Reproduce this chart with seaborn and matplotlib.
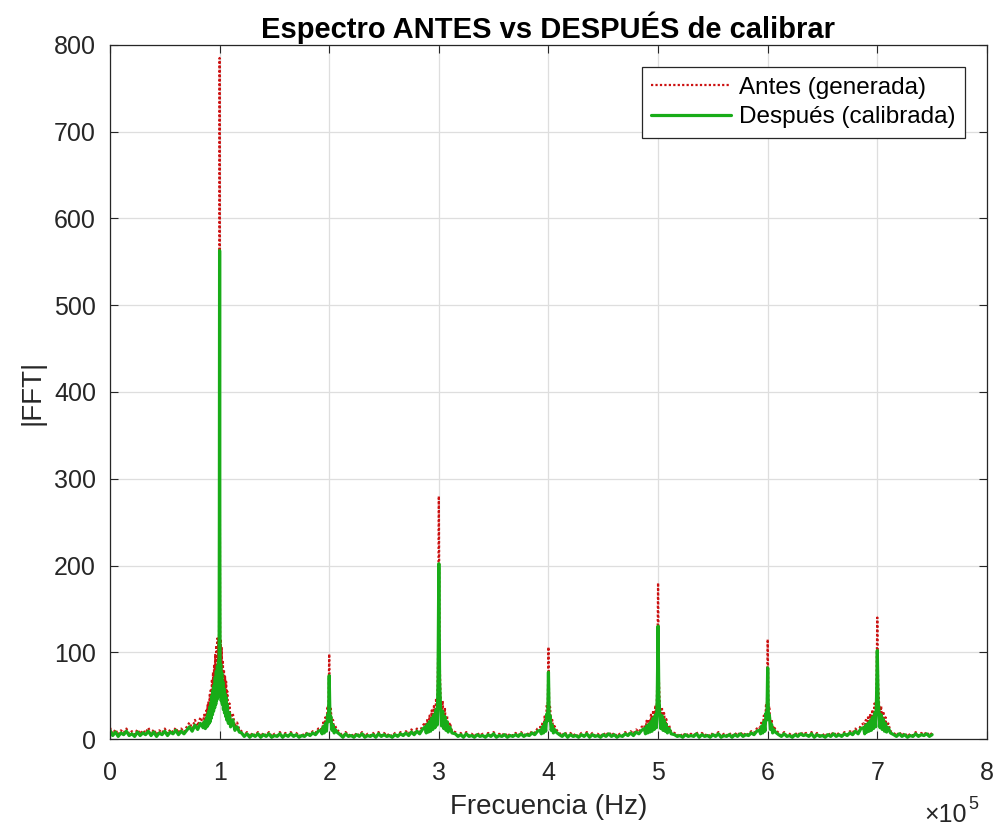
import numpy as np
import pandas as pd
import matplotlib
matplotlib.use("Agg")
import matplotlib.pyplot as plt
import seaborn as sns

# Frequency samples (kHz), grouped by region of the spectrum
freq_khz = [
    # floor 0-85 kHz
    0, 2.5, 5, 7.5, 10, 12.5, 15, 17.5, 20, 22.5, 25, 27.5, 30, 32.5, 35, 37.5, 40, 42.5,
    45, 47.5, 50, 52.5, 55, 57.5, 60, 62.5, 65, 67.5, 70, 72.5, 75, 77.5, 80, 82.5, 85,
    # fundamental, 100 kHz
    86, 87, 88, 88.5, 89, 89.5, 90, 90.5, 91, 91.5,
    92, 92.5, 93, 93.5, 94, 94.5, 95, 95.5, 96, 96.5,
    97, 97.5, 98, 98.5, 99, 99.3, 99.6, 99.8, 100, 100.2,
    100.4, 100.7, 101, 101.5, 102, 102.5, 103, 103.5, 104, 104.5,
    105, 105.5, 106, 106.5, 107, 108, 109, 110, 112, 114,
    116, 118,
    # floor
    120, 122.5, 125, 127.5, 130, 132.5, 135, 137.5, 140, 142.5, 145, 147.5, 150, 152.5, 155,
    157.5, 160, 162.5, 165, 167.5, 170, 172.5, 175, 177.5, 180, 182.5, 185, 187.5, 190,
    # harmonic, 200 kHz
    192.5, 193.5, 194.5, 195.5, 196.5, 197.5, 198.5, 199.3, 200, 200.7, 201.5, 202.5, 203.5, 204.5, 205.5, 207,
    # floor
    210, 212.5, 215, 217.5, 220, 222.5, 225, 227.5, 230, 232.5, 235, 237.5, 240, 242.5, 245, 247.5,
    250, 252.5, 255, 257.5, 260, 262.5, 265, 267.5, 270, 272.5, 275, 277.5, 280, 282.5, 285,
    # harmonic, 300 kHz
    287.5, 288.5, 289.5, 290.5, 291.5, 292.5, 293.5, 294.5, 295.5, 296.5, 297.5, 298.5,
    299.3, 300, 300.7, 301.5, 302.5, 303.5, 304.5, 305.5, 306.5, 307.5, 308.5, 310, 312,
    # floor
    315, 317.5, 320, 322.5, 325, 327.5, 330, 332.5, 335, 337.5, 340, 342.5, 345, 347.5, 350, 352.5,
    355, 357.5, 360, 362.5, 365, 367.5, 370, 372.5, 375, 377.5, 380, 382.5, 385, 387.5, 390,
    # harmonic, 400 kHz
    392.5, 393.5, 394.5, 395.5, 396.5, 397.5, 398.5, 399.3, 400, 400.7, 401.5, 402.5, 403.5, 404.5, 405.5, 407,
    # floor
    410, 412.5, 415, 417.5, 420, 422.5, 425, 427.5, 430, 432.5, 435, 437.5, 440, 442.5, 445, 447.5,
    450, 452.5, 455, 457.5, 460, 462.5, 465, 467.5, 470, 472.5, 475, 477.5, 480, 482.5, 485,
    # harmonic, 500 kHz
    487.5, 488.5, 489.5, 490.5, 491.5, 492.5, 493.5, 494.5, 495.5, 496.5, 497.5, 498.5,
    499.3, 500, 500.7, 501.5, 502.5, 503.5, 504.5, 505.5, 506.5, 507.5, 508.5, 510, 512,
    # floor
    515, 517.5, 520, 522.5, 525, 527.5, 530, 532.5, 535, 537.5, 540, 542.5, 545, 547.5, 550, 552.5,
    555, 557.5, 560, 562.5, 565, 567.5, 570, 572.5, 575, 577.5, 580, 582.5, 585, 587.5, 590,
    # harmonic, 600 kHz
    592.5, 593.5, 594.5, 595.5, 596.5, 597.5, 598.5, 599.3, 600, 600.7, 601.5, 602.5, 603.5, 604.5, 605.5, 607,
    # floor
    610, 612.5, 615, 617.5, 620, 622.5, 625, 627.5, 630, 632.5, 635, 637.5, 640, 642.5, 645, 647.5,
    650, 652.5, 655, 657.5, 660, 662.5, 665, 667.5, 670, 672.5, 675, 677.5, 680, 682.5, 685,
    # harmonic, 700 kHz
    687.5, 688.5, 689.5, 690.5, 691.5, 692.5, 693.5, 694.5, 695.5, 696.5, 697.5, 698.5,
    699.3, 700, 700.7, 701.5, 702.5, 703.5, 704.5, 705.5, 706.5, 707.5, 708.5, 710, 712,
    # floor to the end
    715, 717.5, 720, 722.5, 725, 727.5, 730, 732.5, 735, 737.5, 740, 742.5, 745, 747.5, 750,
]

# |FFT| of the generated signal (before calibration)
mag_antes = [
    13, 6, 11, 5, 10, 7, 12, 6, 9, 5, 11, 6, 10, 7, 13, 6, 11, 5,
    10, 7, 12, 6, 11, 8, 13, 7, 12, 8, 14, 19, 12, 22, 15, 25, 18,
    28, 17, 33, 19, 39, 22, 44, 25, 51, 28,
    58, 33, 69, 39, 77, 44, 86, 50, 98, 55,
    108, 62, 116, 66, 115, 72, 150, 350, 785, 335,
    140, 69, 115, 61, 105, 55, 91, 47, 80, 41,
    72, 36, 66, 30, 55, 25, 41, 19, 30, 14,
    19, 11,
    9, 4, 8, 3, 7, 4, 8, 3, 7, 4, 8, 3, 6, 4, 8,
    3, 7, 4, 8, 4, 7, 3, 6, 4, 8, 5, 9, 7, 12,
    13, 8, 19, 9, 25, 12, 38, 27, 98, 30, 35, 13, 22, 9, 15, 11,
    7, 3, 8, 4, 6, 3, 7, 4, 8, 3, 6, 4, 7, 3, 8, 4,
    7, 4, 6, 3, 7, 4, 8, 5, 9, 6, 11, 7, 12, 8, 15,
    19, 9, 23, 11, 27, 12, 33, 15, 38, 18, 47, 22,
    96, 280, 94, 52, 21, 44, 17, 36, 14, 27, 11, 19, 9,
    8, 4, 7, 3, 8, 4, 6, 3, 7, 4, 6, 3, 7, 4, 8, 3,
    6, 4, 7, 3, 6, 4, 7, 4, 8, 4, 7, 5, 9, 7, 12,
    14, 8, 19, 10, 26, 12, 40, 29, 106, 32, 37, 14, 22, 9, 15, 11,
    7, 4, 8, 3, 7, 4, 6, 3, 7, 4, 8, 3, 7, 4, 6, 3,
    7, 4, 8, 4, 7, 3, 6, 4, 8, 5, 9, 6, 11, 8, 14,
    16, 8, 21, 10, 23, 11, 28, 12, 33, 15, 39, 18,
    72, 180, 70, 41, 16, 37, 14, 30, 12, 23, 10, 16, 8,
    7, 4, 6, 3, 7, 4, 6, 4, 8, 3, 7, 4, 6, 3, 7, 4,
    8, 3, 6, 4, 7, 3, 7, 4, 8, 4, 7, 5, 9, 7, 12,
    14, 8, 21, 10, 27, 12, 41, 30, 115, 33, 38, 15, 23, 9, 15, 11,
    7, 4, 8, 4, 6, 3, 7, 4, 8, 5, 7, 4, 8, 3, 7, 4,
    6, 3, 7, 4, 8, 4, 7, 4, 8, 5, 9, 7, 12, 8, 16,
    18, 8, 22, 11, 25, 12, 29, 14, 34, 16, 41, 19,
    66, 140, 64, 44, 18, 38, 15, 32, 12, 25, 11, 18, 9,
    7, 4, 8, 4, 7, 3, 6, 4, 8, 4, 7, 5, 8, 4, 7,
]

# |FFT| after calibration
mag_despues = [
    10, 4, 8, 3, 7, 5, 9, 4, 6, 3, 8, 4, 7, 5, 9, 4, 8, 3,
    7, 5, 9, 4, 8, 6, 10, 5, 9, 6, 10, 14, 9, 16, 11, 18, 13,
    20, 12, 24, 14, 28, 16, 32, 18, 37, 20,
    42, 24, 50, 28, 56, 32, 62, 36, 71, 40,
    78, 45, 84, 48, 90, 52, 110, 250, 563, 240,
    105, 50, 86, 44, 76, 40, 66, 34, 58, 30,
    52, 26, 48, 22, 40, 18, 30, 14, 22, 10,
    14, 8,
    7, 3, 6, 2, 5, 3, 6, 2, 5, 3, 6, 2, 4, 3, 6,
    2, 5, 3, 6, 3, 5, 2, 4, 3, 6, 4, 7, 5, 9,
    10, 6, 14, 7, 18, 9, 28, 20, 73, 22, 26, 10, 16, 7, 11, 8,
    5, 2, 6, 3, 4, 2, 5, 3, 6, 2, 4, 3, 5, 2, 6, 3,
    5, 3, 4, 2, 5, 3, 6, 4, 7, 4, 8, 5, 9, 6, 11,
    14, 7, 17, 8, 20, 9, 24, 11, 28, 13, 34, 16,
    70, 202, 68, 38, 15, 32, 12, 26, 10, 20, 8, 14, 7,
    6, 3, 5, 2, 6, 3, 4, 2, 5, 3, 4, 2, 5, 3, 6, 2,
    4, 3, 5, 2, 4, 3, 5, 3, 6, 3, 5, 4, 7, 5, 9,
    10, 6, 14, 7, 19, 9, 29, 21, 77, 23, 27, 10, 16, 7, 11, 8,
    5, 3, 6, 2, 5, 3, 4, 2, 5, 3, 6, 2, 5, 3, 4, 2,
    5, 3, 6, 3, 5, 2, 4, 3, 6, 4, 7, 4, 8, 6, 10,
    12, 6, 15, 7, 17, 8, 20, 9, 24, 11, 28, 13,
    52, 130, 50, 30, 12, 27, 10, 22, 9, 17, 7, 12, 6,
    5, 3, 4, 2, 5, 3, 4, 3, 6, 2, 5, 3, 4, 2, 5, 3,
    6, 2, 4, 3, 5, 2, 5, 3, 6, 3, 5, 4, 7, 5, 9,
    10, 6, 15, 7, 20, 9, 30, 22, 82, 24, 28, 11, 17, 7, 11, 8,
    5, 3, 6, 3, 4, 2, 5, 3, 6, 4, 5, 3, 6, 2, 5, 3,
    4, 2, 5, 3, 6, 3, 5, 3, 6, 4, 7, 5, 9, 6, 12,
    13, 6, 16, 8, 18, 9, 21, 10, 25, 12, 30, 14,
    48, 102, 46, 32, 13, 28, 11, 23, 9, 18, 8, 13, 7,
    5, 3, 6, 3, 5, 2, 4, 3, 6, 3, 5, 4, 6, 3, 5,
]

x_tick_labels = ["0", "1", "2", "3", "4", "5", "6", "7", "8"]
y_ticks = [0, 100, 200, 300, 400, 500, 600, 700, 800]
labels = ["Antes (generada)", "Después (calibrada)"]

freq_hz = np.array(freq_khz) * 1e3
df = pd.DataFrame({"f": freq_hz, "antes": mag_antes, "despues": mag_despues})

sns.set_theme(style="white")
plt.rcParams["font.family"] = ["Liberation Sans", "DejaVu Sans"]

TXT = "#262626"
fig = plt.figure(figsize=(9.97, 8.27), dpi=100)
ax = fig.add_axes([0.1103, 0.1064, 0.8796, 0.8392])

sns.lineplot(data=df, x="f", y="antes", ax=ax, color="#cc1111", linestyle=(0, (1, 1)),
             linewidth=1.6, estimator=None, sort=False, label=labels[0])
sns.lineplot(data=df, x="f", y="despues", ax=ax, color="#18ac18", linewidth=2.3,
             estimator=None, sort=False, label=labels[1])

ax.set_xlim(0, 8e5)
ax.set_ylim(0, 800)
ax.set_xticks([i * 1e5 for i in range(9)])
ax.set_xticklabels(x_tick_labels)
ax.set_yticks(y_ticks)
ax.set_yticklabels([str(v) for v in y_ticks])

ax.grid(True, color="#dedede", linewidth=0.9)
ax.set_axisbelow(True)
for s in ax.spines.values():
    s.set_visible(True)
    s.set_color(TXT)
    s.set_linewidth(0.9)
ax.tick_params(direction="in", length=6, width=0.8, color=TXT, labelcolor=TXT,
               labelsize=18, top=True, right=True, bottom=True, left=True)
ax.tick_params(axis="x", pad=16)
ax.tick_params(axis="y", pad=10)

ax.set_xlabel("Frecuencia (Hz)", fontsize=20, color=TXT, labelpad=6)
ax.set_ylabel("|FFT|", fontsize=20, color=TXT, labelpad=6)
ax.set_title("Espectro ANTES vs DESPUÉS de calibrar", fontsize=21, fontweight="bold",
             color="black", pad=5)

# axis multiplier, drawn as base and raised exponent
fig.text(0.970, 0.006, "×10", ha="right", va="baseline", fontsize=18, color=TXT)
fig.text(0.971, 0.022, "5", ha="left", va="baseline", fontsize=13, color=TXT)

leg = ax.legend(loc="upper right", bbox_to_anchor=(0.975, 0.968), fontsize=17.5,
                frameon=True, fancybox=False, edgecolor=TXT, framealpha=1,
                handlelength=3.3, handletextpad=0.3, borderpad=0.4, labelspacing=0.3,
                borderaxespad=0)
leg.get_frame().set_linewidth(0.9)
for t in leg.get_texts():
    t.set_color("black")

fig.savefig("out.png", dpi=100)
